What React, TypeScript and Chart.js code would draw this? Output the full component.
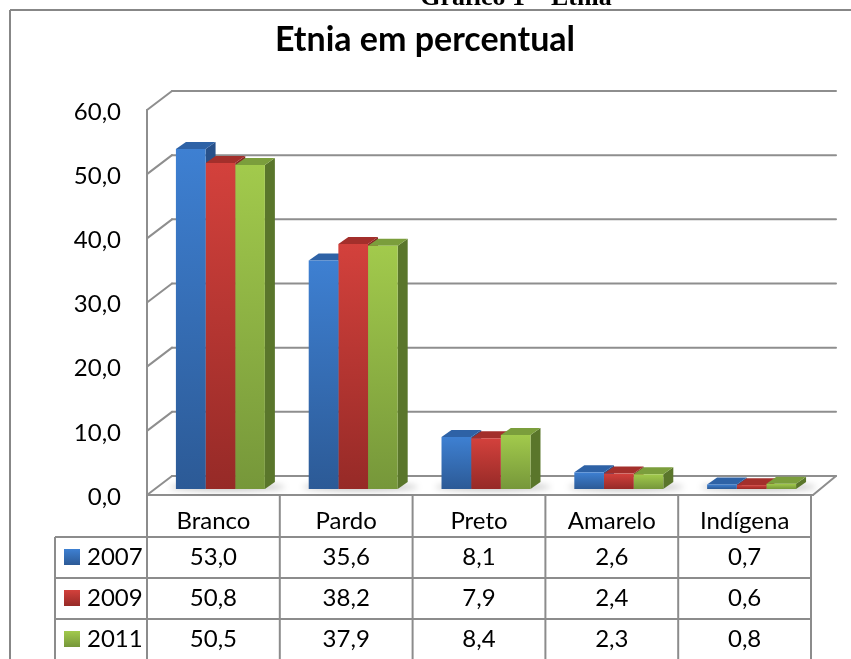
import React, { useEffect, useRef } from 'react';
import { Chart, registerables } from 'chart.js';

Chart.register(...registerables);

// ---------- data ----------
const categories = ['Branco', 'Pardo', 'Preto', 'Amarelo', 'Indígena'];
const years = ['2007', '2009', '2011'];
const values2007 = [53.0, 35.6, 8.1, 2.6, 0.7];
const values2009 = [50.8, 38.2, 7.9, 2.4, 0.6];
const values2011 = [50.5, 37.9, 8.4, 2.3, 0.8];
const yMin = 0;
const yMax = 60;
const yStep = 10;
const chartTitle = 'Etnia em percentual';
const pageHeading = 'Gráfico 1 – Etnia';

// ---------- styles ----------
const palettes = [
  { top: '#3e80d2', bottom: '#2c5a96', side: '#28518a', cap: '#2e62a6' },
  { top: '#d3413c', bottom: '#962a27', side: '#862623', cap: '#a32f2b' },
  { top: '#a2ca4c', bottom: '#76973a', side: '#5a762b', cap: '#7b9e3c' },
];
const GRID = '#8e8e8e';
const TABLE_LINE = '#8c8c8c';
const FONT = 'Lato, "Noto Sans", sans-serif';

// 3D projection offsets (pixels)
const BAR_DX = 10;
const BAR_DY = 7;
const FRONT_DX = -7;
const FRONT_DY = 6;
const BACK_DX = 18;
const BACK_DY = -13;

const fmt = (v: number) => v.toFixed(1).replace('.', ',');

function gradientFor(pal: { top: string; bottom: string }) {
  return (ctx: any) => {
    const chart = ctx.chart;
    const ys = chart.scales && chart.scales.y;
    if (!ys || ctx.type !== 'data') return pal.top;
    const v = ctx.parsed ? ctx.parsed.y : ctx.raw;
    const top = ys.getPixelForValue(v);
    const base = ys.getPixelForValue(0);
    if (!isFinite(top) || !isFinite(base) || top === base) return pal.top;
    const g = chart.ctx.createLinearGradient(0, top, 0, base);
    g.addColorStop(0, pal.top);
    g.addColorStop(1, pal.bottom);
    return g;
  };
}

const threeDPlugin = {
  id: 'threeD',
  beforeDatasetsDraw(chart: any) {
    const ctx = chart.ctx as CanvasRenderingContext2D;
    const ys = chart.scales.y;
    const ca = chart.chartArea;
    const line = (x1: number, y1: number, x2: number, y2: number) => {
      ctx.beginPath();
      ctx.moveTo(x1, y1);
      ctx.lineTo(x2, y2);
      ctx.stroke();
    };
    const fl = ca.left + FRONT_DX;
    const fr = ca.right + FRONT_DX;
    const bl = ca.left + BACK_DX;
    const br = ca.right + BACK_DX;
    const y0 = ys.getPixelForValue(0);

    ctx.save();
    ctx.strokeStyle = GRID;
    ctx.lineWidth = 2;
    ctx.lineCap = 'round';
    ys.ticks.forEach((t: any) => {
      const py = ys.getPixelForValue(t.value);
      line(bl, py + BACK_DY, br, py + BACK_DY);
      line(fl, py + FRONT_DY, bl, py + BACK_DY);
    });
    line(fl, ys.getPixelForValue(yMax) + FRONT_DY, fl, y0 + FRONT_DY);
    line(fl, y0 + FRONT_DY, fr + 2, y0 + FRONT_DY);
    line(fr + 2, y0 + FRONT_DY, br, y0 + BACK_DY);
    ctx.restore();

    // soft floor shadows
    ctx.save();
    ctx.filter = 'blur(3px)';
    ctx.fillStyle = 'rgba(0,0,0,0.22)';
    const nCat = chart.data.labels.length;
    const nDs = chart.data.datasets.length;
    for (let i = 0; i < nCat; i++) {
      const first = chart.getDatasetMeta(0).data[i];
      const last = chart.getDatasetMeta(nDs - 1).data[i];
      if (!first || !last) continue;
      const l = first.x - first.width / 2;
      const r = last.x + last.width / 2 + BAR_DX;
      ctx.beginPath();
      ctx.ellipse((l + r) / 2 + 2, y0 - 2, (r - l) / 2 + 8, 4, 0, 0, Math.PI * 2);
      ctx.fill();
    }
    ctx.restore();

    // side and top faces of each bar (fronts are drawn by Chart.js afterwards)
    ctx.save();
    for (let i = 0; i < nCat; i++) {
      for (let d = 0; d < nDs; d++) {
        const el = chart.getDatasetMeta(d).data[i];
        if (!el) continue;
        const p = el.getProps(['x', 'y', 'base', 'width'], true);
        const l = p.x - p.width / 2;
        const r = p.x + p.width / 2;
        const top = p.y;
        const base = p.base;
        const pal = palettes[d % palettes.length];
        ctx.fillStyle = pal.side;
        ctx.beginPath();
        ctx.moveTo(r, top);
        ctx.lineTo(r + BAR_DX, top - BAR_DY);
        ctx.lineTo(r + BAR_DX, base - BAR_DY);
        ctx.lineTo(r, base);
        ctx.closePath();
        ctx.fill();
        ctx.fillStyle = pal.cap;
        ctx.beginPath();
        ctx.moveTo(l, top);
        ctx.lineTo(l + BAR_DX, top - BAR_DY);
        ctx.lineTo(r + BAR_DX, top - BAR_DY);
        ctx.lineTo(r, top);
        ctx.closePath();
        ctx.fill();
      }
    }
    ctx.restore();
  },
  afterDraw(chart: any) {
    const ctx = chart.ctx as CanvasRenderingContext2D;
    const xs = chart.scales.x;
    const ys = chart.scales.y;
    const ca = chart.chartArea;
    const W = chart.width;
    const H = chart.height;
    const line = (x1: number, y1: number, x2: number, y2: number) => {
      ctx.beginPath();
      ctx.moveTo(x1, y1);
      ctx.lineTo(x2, y2);
      ctx.stroke();
    };

    ctx.save();
    // page heading (partly cut off at the top)
    ctx.fillStyle = '#000';
    ctx.font = 'bold 26px "Liberation Serif", "Times New Roman", serif';
    ctx.textAlign = 'center';
    ctx.textBaseline = 'alphabetic';
    ctx.fillText(pageHeading, 516, 5);

    // chart frame
    ctx.strokeStyle = '#878787';
    ctx.lineWidth = 2;
    line(10, 10, W, 10);
    line(10, 10, 10, H);

    // chart title
    ctx.font = `bold 34px ${FONT}`;
    ctx.fillText(chartTitle, 425, 51);

    // data table
    const nCat = chart.data.labels.length;
    const cw = (ca.right - ca.left) / nCat;
    const tTop = ys.getPixelForValue(0) + FRONT_DY;
    const headerBottom = tTop + 42;
    const rowH = 41;
    const legendLeft = 55;
    const tLeft = ca.left + FRONT_DX;
    const tRight = ca.right + FRONT_DX;

    ctx.strokeStyle = TABLE_LINE;
    ctx.lineWidth = 2;
    for (let i = 0; i <= nCat; i++) {
      const cx = tLeft + i * cw;
      line(cx, tTop, cx, H);
    }
    line(legendLeft, headerBottom, legendLeft, H);
    const nDs = chart.data.datasets.length;
    for (let r = 0; r < nDs; r++) {
      const ry = headerBottom + r * rowH;
      line(legendLeft, ry, tRight, ry);
    }

    ctx.font = `24px ${FONT}`;
    ctx.fillStyle = '#000';
    ctx.textAlign = 'center';
    chart.data.labels.forEach((lab: string, i: number) => {
      ctx.fillText(lab, xs.getPixelForValue(i) + FRONT_DX, tTop + 34);
    });
    chart.data.datasets.forEach((ds: any, d: number) => {
      const rowTop = headerBottom + d * rowH;
      const base = rowTop + 28;
      ds.data.forEach((v: number, i: number) => {
        ctx.textAlign = 'center';
        ctx.fillStyle = '#000';
        ctx.fillText(fmt(v), xs.getPixelForValue(i) + FRONT_DX, base);
      });
      const pal = palettes[d % palettes.length];
      const sy = rowTop + 12;
      const g = ctx.createLinearGradient(0, sy, 0, sy + 16);
      g.addColorStop(0, pal.top);
      g.addColorStop(1, pal.bottom);
      ctx.fillStyle = g;
      ctx.fillRect(64, sy, 16, 16);
      ctx.fillStyle = '#000';
      ctx.textAlign = 'left';
      ctx.fillText(ds.label, 87, base);
    });
    ctx.restore();
  },
};

export default function App() {
  const canvasRef = useRef<HTMLCanvasElement | null>(null);

  useEffect(() => {
    const canvas = canvasRef.current;
    if (!canvas) return;
    const seriesValues = [values2007, values2009, values2011];
    const chart = new Chart(canvas, {
      type: 'bar',
      data: {
        labels: categories,
        datasets: years.map((yr, d) => ({
          label: yr,
          data: seriesValues[d],
          backgroundColor: gradientFor(palettes[d]),
          borderWidth: 0,
          categoryPercentage: 0.67,
          barPercentage: 1.0,
        })),
      },
      options: {
        responsive: false,
        animation: false,
        events: [],
        layout: { padding: { left: 0, right: 33, top: 104, bottom: 170 } },
        plugins: {
          legend: { display: false },
          tooltip: { enabled: false },
          title: { display: false },
        },
        scales: {
          x: { type: 'category', display: false, offset: true },
          y: {
            type: 'linear',
            min: yMin,
            max: yMax,
            position: 'left',
            grid: { display: false, drawTicks: false },
            border: { display: false },
            ticks: {
              stepSize: yStep,
              padding: 33,
              labelOffset: 8,
              color: '#000',
              font: { family: FONT, size: 24 },
              callback: (v: any) => fmt(Number(v)),
            },
            afterFit: (scale: any) => {
              scale.width = 154;
            },
          },
        },
      } as any,
      plugins: [threeDPlugin],
    });
    return () => chart.destroy();
  }, []);

  return (
    <div style={{ position: 'fixed', left: 0, top: 0, width: 851, height: 659, background: '#fff' }}>
      <canvas ref={canvasRef} width={851} height={659} style={{ display: 'block', width: 851, height: 659 }} />
    </div>
  );
}
